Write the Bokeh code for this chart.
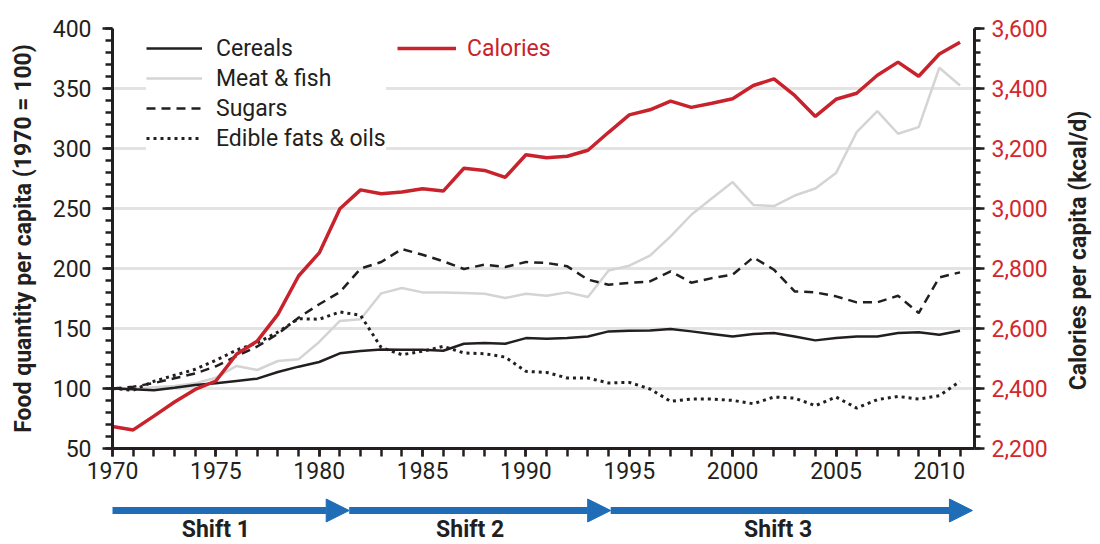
import math
from bokeh.plotting import figure
from bokeh.models import (Range1d, LinearAxis, SingleIntervalTicker, NumeralTickFormatter,
                          Legend, LegendItem, Arrow, NormalHead)
from bokeh.layouts import column, row
from bokeh.embed import file_html
from bokeh.resources import INLINE
from bokeh.core.properties import value

years = list(range(1970, 2012))

cereals = [100, 99.3, 98.5, 100.7, 103, 104.3, 106.3, 108.2, 113.8, 118.2,
           122.1, 129.3, 131.3, 132.5, 132.3, 132.3, 131.5, 137.3, 137.9, 137.3,
           142, 141.5, 142, 143.4, 147.6, 148.2, 148.4, 149.6, 147.6, 145.5,
           143.4, 145.4, 146.2, 143.4, 140.1, 142, 143.4, 143.4, 146.2, 146.8,
           144.8, 148.2]

meat_fish = [100, 99.5, 101, 102.1, 104.3, 109, 118.8, 115.4, 122.9, 124.3,
             138.8, 156.3, 157.7, 179.3, 183.7, 180.1, 180.1, 179.6, 179, 175.4,
             179, 177.3, 180.1, 176.2, 198.4, 202.3, 210.7, 226.8, 244.8, 258.5,
             272, 253, 252, 260.8, 266.7, 279.5, 313.6, 331.1, 312.3, 317.8,
             367.3, 352.5]

sugars = [100, 101.5, 104.5, 108.5, 112.5, 118.5, 127, 135, 145.5, 159,
          170.2, 180.4, 199.9, 205.4, 216.2, 211.5, 206, 199.6, 203.2, 201.2,
          205.4, 204.6, 201.8, 190.7, 186.5, 187.9, 189.3, 197.6, 188.2, 192,
          194.8, 209.3, 199, 180.9, 180.1, 176.8, 171.8, 171.8, 177.3, 162.9,
          192.6, 196.8]

fats_oils = [100, 98.5, 106, 111, 116, 123.5, 132, 138, 147, 158.2,
             157.7, 163.8, 161, 134.1, 128.2, 131, 135.1, 129.6, 129, 126.2,
             114.3, 113.4, 108.7, 108.7, 104.6, 105.1, 99.6, 89.3, 91.2, 91.2,
             90.1, 87.3, 92.9, 92, 85.7, 92.9, 83.7, 90.7, 93.4, 91.2,
             94, 105.9]

calories = [2273, 2262, 2308, 2355, 2397, 2425, 2514, 2558, 2647, 2775,
            2852, 2999, 3062, 3049, 3055, 3066, 3058, 3134, 3127, 3104,
            3179, 3169, 3174, 3194, 3254, 3312, 3329, 3358, 3337, 3351,
            3366, 3410, 3432, 3377, 3307, 3364, 3384, 3444, 3488, 3441,
            3515, 3554]

series_labels = ["Cereals", "Meat & fish", "Sugars", "Edible fats & oils"]
calories_label = "Calories"
left_label = "Food quantity per capita (1970 = 100)"
right_label = "Calories per capita (kcal/d)"

shift_labels = ["Shift 1", "Shift 2", "Shift 3"]
shift_bounds = [1969.9, 1981.45, 1994.1, 2011.6]
shift_label_x = [1975.0, 1987.3, 2002.2]

FONT = "Roboto"
TXT = "#231f20"
RED = "#c8232c"
RED_TXT = "#d2282e"
GRAY = "#d4d4d4"
BLUE = "#1f6db6"
GRID = "#e3e3e3"

BL, BR = 112, 89
FW, FH = 862, 420
BT, BB = 28, 47

p = figure(frame_width=FW, frame_height=FH,
           x_range=Range1d(1970, 2011.7), y_range=Range1d(50, 400),
           output_backend="svg", toolbar_location=None,
           min_border_left=BL, min_border_right=BR,
           min_border_top=BT, min_border_bottom=BB)
p.extra_y_ranges = {"cal": Range1d(2200, 3600)}
p.outline_line_color = None
p.background_fill_color = "white"

xax = p.xaxis[0]
xax.ticker = SingleIntervalTicker(interval=5, num_minor_ticks=5)
yax = p.yaxis[0]
yax.ticker = SingleIntervalTicker(interval=50, num_minor_ticks=5)
yax.axis_label = left_label

rax = LinearAxis(y_range_name="cal",
                 ticker=SingleIntervalTicker(interval=200, num_minor_ticks=5),
                 formatter=NumeralTickFormatter(format="0,0"))
p.add_layout(rax, "right")

for ax in (xax, yax, rax):
    ax.axis_line_color = TXT
    ax.axis_line_width = 3
    ax.major_tick_line_color = TXT
    ax.minor_tick_line_color = TXT
    ax.major_tick_line_width = 2.5
    ax.minor_tick_line_width = 2.5
    ax.major_tick_in = 0
    ax.minor_tick_in = 0
    ax.major_label_text_font = FONT
    ax.major_label_text_font_size = "23px"
    ax.major_label_text_color = TXT
    ax.axis_label_text_font = FONT
    ax.axis_label_text_font_style = "bold"
    ax.axis_label_text_font_size = "23px"
    ax.axis_label_text_color = TXT

xax.major_tick_out = 8
xax.minor_tick_out = 8
xax.major_label_standoff = 5
yax.major_tick_out = 10
yax.minor_tick_out = 7
yax.major_label_standoff = 11
yax.axis_label_standoff = 13
rax.major_tick_out = 10
rax.minor_tick_out = 6
rax.major_label_standoff = 7
rax.major_label_text_color = RED_TXT

p.xgrid.visible = False
p.ygrid.ticker = yax.ticker
p.ygrid.grid_line_color = GRID
p.ygrid.grid_line_width = 3

r_meat = p.line(years, meat_fish, line_color=GRAY, line_width=2.5)
r_cer = p.line(years, cereals, line_color=TXT, line_width=2.5)
r_sug = p.line(years, sugars, line_color=TXT, line_width=2.5, line_dash="9 6")
r_fat = p.line(years, fats_oils, line_color=TXT, line_width=3, line_dash="3 4")
r_cal = p.line(years, calories, line_color=RED, line_width=3.5, y_range_name="cal")

leg1 = Legend(items=[LegendItem(label=series_labels[0], renderers=[r_cer]),
                     LegendItem(label=series_labels[1], renderers=[r_meat]),
                     LegendItem(label=series_labels[2], renderers=[r_sug]),
                     LegendItem(label=series_labels[3], renderers=[r_fat])],
              location=(34, 296))
leg2 = Legend(items=[LegendItem(label=calories_label, renderers=[r_cal])],
              location=(285, 386))
for lg in (leg1, leg2):
    lg.border_line_color = None
    lg.padding = 3
    lg.spacing = 2
    lg.margin = 0
    lg.label_height = 28
    lg.glyph_height = 28
    lg.label_text_font = FONT
    lg.label_text_font_size = "23px"
    lg.label_text_color = TXT
leg1.background_fill_color = "white"
leg1.background_fill_alpha = 1
leg1.glyph_width = 56
leg1.label_standoff = 14
leg2.background_fill_alpha = 0
leg2.glyph_width = 59
leg2.label_standoff = 11
leg2.label_text_color = RED
p.add_layout(leg1)
p.add_layout(leg2)

# bottom strip with the three "Shift" arrows
p2 = figure(frame_width=FW, frame_height=48, x_range=p.x_range,
            y_range=Range1d(0, 48), output_backend="svg", toolbar_location=None,
            x_axis_location=None, y_axis_location=None,
            min_border_left=BL, min_border_right=BR,
            min_border_top=0, min_border_bottom=0)
p2.outline_line_color = None
p2.grid.visible = False

for i in range(len(shift_labels)):
    p2.add_layout(Arrow(end=NormalHead(size=23, fill_color=BLUE, line_color=BLUE, line_width=1),
                        x_start=shift_bounds[i], x_end=shift_bounds[i + 1],
                        y_start=33, y_end=33, line_color=BLUE, line_width=7))

p2.text(x=shift_label_x, y=[14] * len(shift_labels), text=shift_labels,
        text_align="center", text_baseline="middle", text_font=value(FONT),
        text_font_style="bold", text_font_size="23px", text_color=TXT)

# narrow strip on the right holding the right-hand axis title (reads bottom-to-top)
p3 = figure(frame_width=30, frame_height=FH, x_range=Range1d(-1, 1),
            y_range=Range1d(0, FH), output_backend="svg", toolbar_location=None,
            x_axis_location=None, y_axis_location=None,
            min_border_left=0, min_border_right=0,
            min_border_top=BT, min_border_bottom=BB)
p3.outline_line_color = None
p3.grid.visible = False
p3.text(x=[0], y=[FH / 2 - 12], text=[right_label], angle=math.pi / 2,
        text_align="center", text_baseline="middle", text_font=value(FONT),
        text_font_style="bold", text_font_size="23px", text_color=TXT)

layout = row(column(p, p2), p3)
open("out.html", "w").write(file_html(layout, INLINE))
